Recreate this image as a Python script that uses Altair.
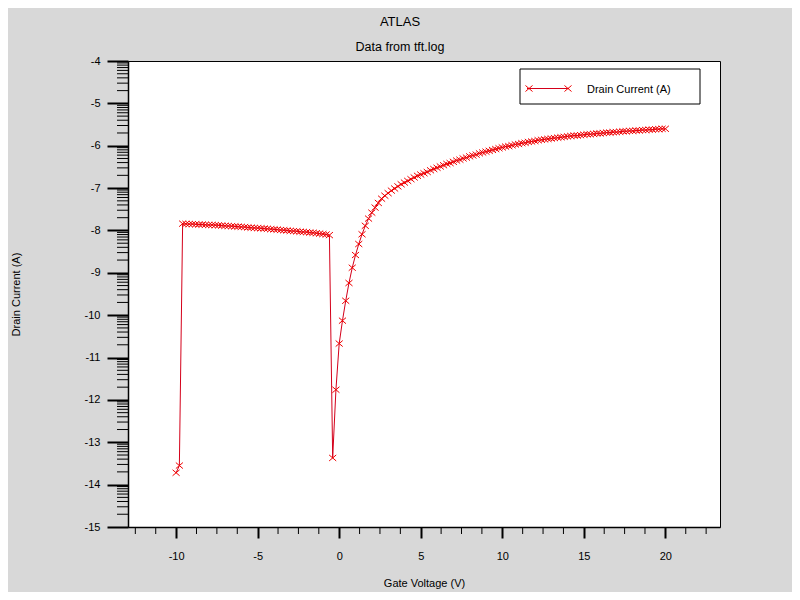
import altair as alt
import pandas as pd

# ---- data ----
# gate-voltage sweep: -10 V to 20 V in 0.2 V steps
gate_voltage = [round(-10 + 0.2 * i, 1) for i in range(151)]

# log10 of drain current (A)
cur_start = [-13.72, -13.55]
cur_off = [-7.84, -7.845, -7.85, -7.85, -7.855, -7.86, -7.86, -7.865, -7.87, -7.87,
           -7.875, -7.88, -7.885, -7.89, -7.895, -7.90, -7.905, -7.91, -7.915, -7.92,
           -7.93, -7.935, -7.94, -7.945, -7.95, -7.955, -7.96, -7.97, -7.975, -7.98,
           -7.99, -7.995, -8.00, -8.01, -8.015, -8.02, -8.03, -8.035, -8.04, -8.05,
           -8.055, -8.065, -8.075, -8.085, -8.095, -8.11]
cur_rise = [-13.37, -11.76, -10.67, -10.13, -9.66, -9.24, -8.88, -8.58, -8.32, -8.09,
            -7.89, -7.72, -7.58, -7.46, -7.35]
cur_on = [-7.25, -7.18, -7.12, -7.06, -7.01, -6.96, -6.91, -6.87, -6.83, -6.79,
          -6.75, -6.71, -6.68, -6.65, -6.62, -6.58, -6.55, -6.52, -6.49, -6.46,
          -6.43, -6.41, -6.38, -6.35, -6.33, -6.30, -6.28, -6.25, -6.23, -6.21,
          -6.18, -6.16, -6.14, -6.12, -6.10, -6.08, -6.06, -6.04, -6.02, -6.01,
          -5.99, -5.97, -5.96, -5.94, -5.93, -5.91, -5.90, -5.89, -5.87, -5.86,
          -5.85, -5.84, -5.83, -5.82, -5.81, -5.80, -5.79, -5.78, -5.77, -5.76,
          -5.76, -5.75, -5.74, -5.73, -5.73, -5.72, -5.71, -5.71, -5.70, -5.69,
          -5.69, -5.68, -5.68, -5.67, -5.66, -5.66, -5.65, -5.65, -5.64, -5.64,
          -5.63, -5.63, -5.62, -5.62, -5.61, -5.61, -5.60, -5.60]
drain_current = cur_start + cur_off + cur_rise + cur_on

x_major = [-10, -5, 0, 5, 10, 15, 20]
x_minor = [-12.5, -11.25, -8.75, -7.5, -6.25, -3.75, -2.5, -1.25, 1.25, 2.5, 3.75,
           6.25, 7.5, 8.75, 11.25, 12.5, 13.75, 16.25, 17.5, 18.75, 21.25, 22.5]
y_major = list(range(-15, -3))
log_mant = [0.30103, 0.47712, 0.60206, 0.69897, 0.77815, 0.84510, 0.90309, 0.95424]
y_minor = [d + m for d in range(-15, -4) for m in log_mant]

series_name = ["Drain Current (A)"]

df = pd.DataFrame({"vg": gate_voltage, "id": drain_current})
df_xminor = pd.DataFrame({"vg": x_minor})
df_yminor = pd.DataFrame({"id": y_minor})
df_leg = pd.DataFrame({"label": series_name})

FONT = "Liberation Sans"
LINE_RED = "#d4001a"
MARK_RED = "#f00000"
X_SHAPE = "M-1,-0.85L1,0.85M-1,0.85L1,-0.85"

W, H = 592, 466
xs = alt.Scale(domain=[-12.95, 23.35], nice=False, zero=False)
ys = alt.Scale(domain=[-15, -4], nice=False, zero=False)

LBL = "'' + datum.value"

x_axis = alt.Axis(values=x_major, labelExpr=LBL, title="Gate Voltage (V)", grid=False,
                  tickSize=11, tickWidth=2, tickColor="black", domainColor="black",
                  domainWidth=1.5, labelPadding=12, labelFont=FONT, labelFontSize=11,
                  labelColor="black", labelFlush=False, titleFont=FONT, titleFontSize=11,
                  titleFontWeight="normal", titleColor="black", titleY=56,
                  titleBaseline="middle")
y_axis = alt.Axis(values=y_major, labelExpr=LBL, title="Drain Current (A)", grid=False,
                  tickSize=21, tickWidth=2, tickColor="black", domainColor="black",
                  domainWidth=1.5, labelPadding=7, labelFont=FONT, labelFontSize=11,
                  labelColor="black", labelFlush=False, titleFont=FONT, titleFontSize=11,
                  titleFontWeight="normal", titleColor="black", titleX=-112, titleY=233,
                  titleAlign="center", titleBaseline="middle")

X = alt.X("vg:Q", scale=xs, axis=x_axis)
Y = alt.Y("id:Q", scale=ys, axis=y_axis)

line = alt.Chart(df).mark_line(color=LINE_RED, strokeWidth=1).encode(x=X, y=Y)
pts = alt.Chart(df).mark_point(shape=X_SHAPE, size=50, color=MARK_RED, filled=False,
                               strokeWidth=1, opacity=1).encode(x=X, y=Y)
xminor = alt.Chart(df_xminor).mark_rule(color="black", strokeWidth=1).encode(
    x=X, y=alt.value(H), y2=alt.value(H + 7))
yminor = alt.Chart(df_yminor).mark_rule(color="black", strokeWidth=1).encode(
    y=Y, x=alt.value(-11), x2=alt.value(0))

# legend box (decoration)
leg_box = alt.Chart(df_leg).mark_rect(fill="white", stroke="black", strokeWidth=1).encode(
    x=alt.value(392), x2=alt.value(572), y=alt.value(8), y2=alt.value(43))
leg_line = alt.Chart(df_leg).mark_rule(color=LINE_RED, strokeWidth=1).encode(
    x=alt.value(399), x2=alt.value(441), y=alt.value(27.5))
leg_m1 = alt.Chart(df_leg).mark_point(shape=X_SHAPE, size=50, color=MARK_RED, filled=False,
                                      strokeWidth=1, opacity=1).encode(
    x=alt.value(401), y=alt.value(27.5))
leg_m2 = alt.Chart(df_leg).mark_point(shape=X_SHAPE, size=50, color=MARK_RED, filled=False,
                                      strokeWidth=1, opacity=1).encode(
    x=alt.value(440), y=alt.value(27.5))
leg_txt = alt.Chart(df_leg).mark_text(align="left", baseline="middle", font=FONT,
                                      fontSize=11, color="black").encode(
    text="label:N", x=alt.value(459), y=alt.value(29))

chart = alt.layer(line, pts, xminor, yminor, leg_box, leg_line, leg_m1, leg_m2, leg_txt).properties(
    width=W, height=H,
    title=alt.TitleParams("ATLAS", subtitle="Data from tft.log", anchor="middle", frame="group",
                          dx=-24, offset=2, font=FONT, fontSize=13, fontWeight="normal",
                          color="black", subtitleFont=FONT, subtitleFontSize=12.5,
                          subtitleColor="black", subtitlePadding=12),
    background="#d8d8d8",
    padding={"left": 120, "top": 53, "right": 72, "bottom": 65},
    autosize=alt.AutoSizeParams(type="none"),
).configure_view(fill="white", stroke="black", strokeWidth=1)

chart.save("out.html", embed_options={"renderer": "svg", "actions": False})
